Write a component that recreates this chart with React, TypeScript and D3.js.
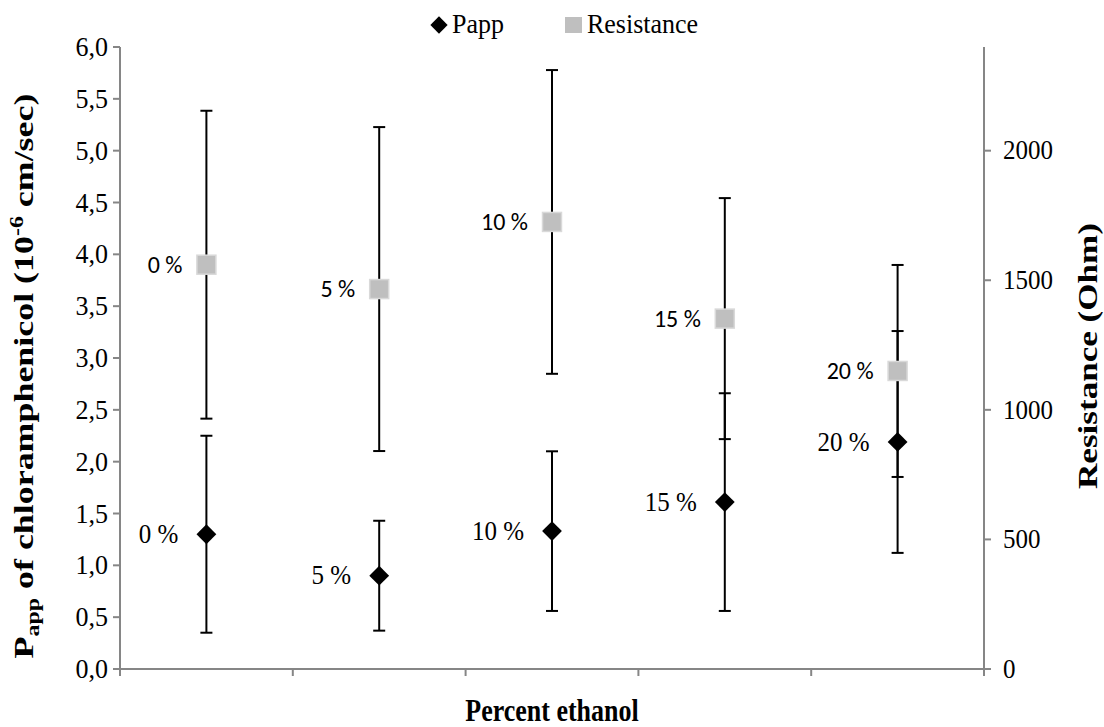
import React from "react";
import * as d3 from "d3";

const categories = ["0 %", "5 %", "10 %", "15 %", "20 %"];
const pappMean = [1.30, 0.90, 1.33, 1.61, 2.19];
const pappSd = [0.95, 0.53, 0.77, 1.05, 1.07];
const resMean = [1560, 1466, 1725, 1352, 1150];
const resSd = [594, 625, 586, 465, 409];
const leftTicks = [0, 0.5, 1, 1.5, 2, 2.5, 3, 3.5, 4, 4.5, 5, 5.5, 6];
const rightTicks = [0, 500, 1000, 1500, 2000];

const W = 1104;
const H = 727;
const L = 120, R = 984, T = 47, B = 669;
const SERIF = "'Liberation Serif', 'Times New Roman', serif";
const SANS = "Carlito, Lato, 'Liberation Sans', sans-serif";
const AXIS = "#868686";

function ST(props: any) {
  const { x, y, rotate, sy = 1, children, ...rest } = props;
  const tr = `translate(${x},${y}) scale(1,${sy})${rotate ? ` rotate(${rotate})` : ""}`;
  return (
    <text transform={tr} {...rest}>
      {children}
    </text>
  );
}

export default function App() {
  const x = d3.scaleBand<string>().domain(categories).range([L, R]).paddingInner(0).paddingOuter(0);
  const yL = d3.scaleLinear().domain([0, 6]).range([B, T]);
  const yR = d3.scaleLinear().domain([0, 2400]).range([B, T]);
  const cx = (i: number) => (x(categories[i]) as number) + x.bandwidth() / 2;
  const fmt = (v: number) => d3.format(".1f")(v).replace(".", ",");
  const xTickPos = [...categories.map((c) => x(c) as number), R];
  const diamond = d3.symbol().type(d3.symbolDiamond2).size(250)() as string;

  const errBar = (X: number, y1: number, y2: number, key: string) => (
    <g key={key} stroke="#000" strokeWidth={2}>
      <line x1={X} x2={X} y1={y1} y2={y2} />
      <line x1={X - 6} x2={X + 6} y1={y1} y2={y1} />
      <line x1={X - 6} x2={X + 6} y1={y2} y2={y2} />
    </g>
  );

  return (
    <svg width={W} height={H} style={{ position: "absolute", left: 0, top: 0, background: "#fff" }}>
      <rect x={0} y={0} width={W} height={H} fill="#fff" />
      {/* axes */}
      <g stroke={AXIS} strokeWidth={2} fill="none">
        <line x1={L} x2={L} y1={T} y2={B} />
        <line x1={R} x2={R} y1={T} y2={B} />
        <line x1={L - 7} x2={R + 7} y1={B} y2={B} />
        {leftTicks.map((t) => (
          <line key={"lt" + t} x1={L - 7} x2={L} y1={yL(t)} y2={yL(t)} />
        ))}
        {rightTicks.map((t) => (
          <line key={"rt" + t} x1={R} x2={R + 7} y1={yR(t)} y2={yR(t)} />
        ))}
        {xTickPos.map((p, i) => (
          <line key={"xt" + i} x1={p} x2={p} y1={B} y2={B + 7} />
        ))}
      </g>
      <g fontFamily={SERIF} fill="#000">
        {leftTicks.map((t) => (
          <ST key={"ll" + t} x={L - 12} y={yL(t)} sy={1.05} dy="0.33em" textAnchor="end" fontSize={26}>{fmt(t)}</ST>
        ))}
        {rightTicks.map((t) => (
          <ST key={"rl" + t} x={R + 19} y={yR(t)} sy={1.05} dy="0.33em" textAnchor="start" fontSize={25}>{t}</ST>
        ))}
      </g>
      {/* error bars */}
      {categories.map((c, i) => errBar(cx(i), yR(resMean[i] + resSd[i]), yR(resMean[i] - resSd[i]), "re" + i))}
      {categories.map((c, i) => errBar(cx(i), yL(pappMean[i] + pappSd[i]), yL(pappMean[i] - pappSd[i]), "pe" + i))}
      {/* markers */}
      {categories.map((c, i) => (
        <rect key={"rm" + i} x={cx(i) - 9.5} y={yR(resMean[i]) - 9.5} width={19} height={19} fill="#BFBFBF" stroke="#D9D9D9" strokeWidth={1.5} />
      ))}
      {categories.map((c, i) => (
        <path key={"pm" + i} d={diamond} transform={`translate(${cx(i)},${yL(pappMean[i])})`} fill="#000" />
      ))}
      {/* data labels */}
      {categories.map((c, i) => (
        <ST key={"rlab" + i} x={cx(i) - 24} y={yR(resMean[i])} dy="0.35em" textAnchor="end" fontFamily={SANS} fontSize={24} fill="#000">{c}</ST>
      ))}
      {categories.map((c, i) => (
        <ST key={"plab" + i} x={cx(i) - 28} y={yL(pappMean[i])} sy={1.05} dy="0.33em" textAnchor="end" fontFamily={SERIF} fontSize={25} fill="#000">{c}</ST>
      ))}
      {/* legend */}
      <g fontFamily={SERIF} fontSize={26} fill="#000">
        <path d={d3.symbol().type(d3.symbolDiamond2).size(190)() as string} transform="translate(439,25)" fill="#000" />
        <ST x={452} y={33} sy={1.05}>Papp</ST>
        <rect x={565} y={17} width={17} height={16} fill="#BFBFBF" />
        <ST x={587} y={33} sy={1.05}>Resistance</ST>
      </g>
      {/* titles */}
      <ST x={552} y={721} sy={1.2} textAnchor="middle" fontFamily={SERIF} fontWeight="bold" fontSize={26} fill="#000">Percent ethanol</ST>
      <ST x={33} y={376} sy={1.33} rotate={-90} textAnchor="middle" fontFamily={SERIF} fontWeight="bold" fontSize={27} fill="#000">
        <tspan>P</tspan>
        <tspan fontSize={18} dy={6}>app</tspan>
        <tspan dy={-6}> of chloramphenicol  (10</tspan>
        <tspan fontSize={18} dy={-10}>-6</tspan>
        <tspan dy={10}> cm/sec)</tspan>
      </ST>
      <ST x={1097} y={356} sy={1.3} rotate={-90} textAnchor="middle" fontFamily={SERIF} fontWeight="bold" fontSize={27} fill="#000">Resistance (Ohm)</ST>
    </svg>
  );
}
